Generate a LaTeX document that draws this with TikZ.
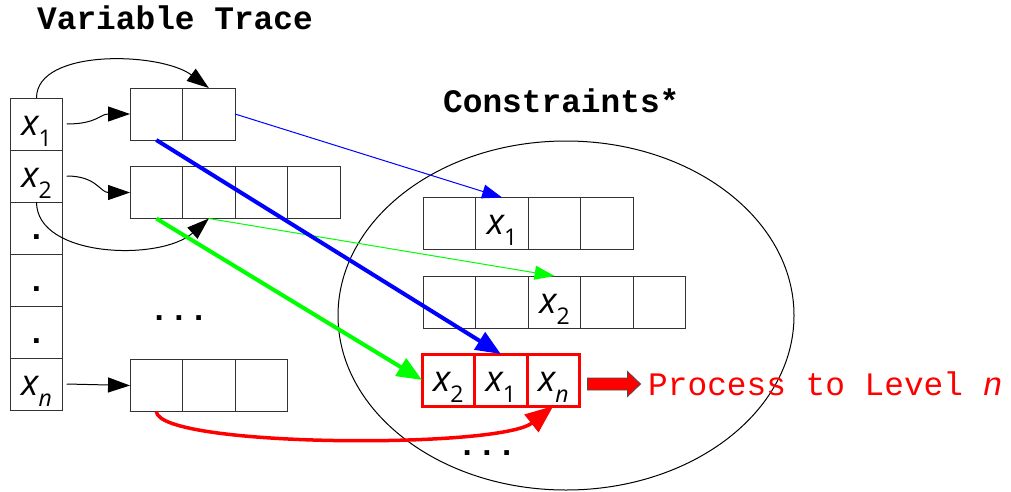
\documentclass[tikz,border=0pt]{standalone}
\usepackage{fontspec}
\usetikzlibrary{shapes.geometric, arrows.meta, positioning, calc}
\newfontfamily\monofont{Liberation Mono}
\newfontfamily\varfont{Open Sans}
\newcommand{\dotfont}{\monofont\bfseries\fontsize{32.8}{36}\selectfont}
\newcommand{\xvar}[1]{{\varfont\fontsize{36}{36}\selectfont\itshape x}\raisebox{-11pt}{\varfont\fontsize{23}{23}\selectfont #1}}
\tikzset{
    cell/.style={rectangle, draw=black!80, line width=1pt, minimum width=52.5pt, minimum height=52pt, inner sep=0pt, outer sep=0pt, text height=22pt, text depth=0pt},
    hotcell/.style={cell, draw=red, line width=3pt},
    title/.style={font=\dotfont, anchor=base west, inner sep=0pt},
    dots/.style={font=\dotfont, inner sep=0pt},
    link/.style={-{Triangle[length=22pt, width=15pt]}, line width=1pt},
    thinlink/.style={-{Triangle[length=20pt, width=14pt]}, line width=1pt},
    boldlink/.style={-{Triangle[length=25pt, width=20pt]}, line width=4pt}
}
\begin{document}
\begin{tikzpicture}[x=1pt, y=-1pt]
  \useasboundingbox (0,0) rectangle (1011,491);
  % constraint pool
  \node[ellipse, draw, line width=1pt, minimum width=456pt, minimum height=349pt, inner sep=0pt] (pool) at (566,315.5) {};
  \node[title] (trace) at (37,29) {Variable Trace};
  \node[title] (constr) at (443,112) {Constraints*};
  % variable column
  \node[cell] (x1) at (36.5,124) {\xvar{1}};
  \node[cell, below=0pt of x1] (x2) {\xvar{2}};
  \node[cell, below=0pt of x2, font=\dotfont] (d1) {.};
  \node[cell, below=0pt of d1, font=\dotfont] (d2) {.};
  \node[cell, below=0pt of d2, font=\dotfont] (d3) {.};
  \node[cell, below=0pt of d3] (xn) {\xvar{\itshape n}};
  % traces
  \node[cell] (r1a) at (156.3,114) {};
  \node[cell, right=0pt of r1a] (r1b) {};
  \node[cell] (r2a) at (156.3,192.5) {};
  \node[cell, right=0pt of r2a] (r2b) {};
  \node[cell, right=0pt of r2b] (r2c) {};
  \node[cell, right=0pt of r2c] (r2d) {};
  \node[dots] (gap) at (179,318) {...};
  \node[cell] (rna) at (156.3,385.5) {};
  \node[cell, right=0pt of rna] (rnb) {};
  \node[cell, right=0pt of rnb] (rnc) {};
  % constraints
  \node[cell] (c1a) at (449.6,223.5) {};
  \node[cell, right=0pt of c1a] (c1b) {\xvar{1}};
  \node[cell, right=0pt of c1b] (c1c) {};
  \node[cell, right=0pt of c1c] (c1d) {};
  \node[cell] (c2a) at (449.6,302) {};
  \node[cell, right=0pt of c2a] (c2b) {};
  \node[cell, right=0pt of c2b] (c2c) {\xvar{2}};
  \node[cell, right=0pt of c2c] (c2d) {};
  \node[cell, right=0pt of c2d] (c2e) {};
  \node[hotcell] (h2) at (448.3,380) {\xvar{2}};
  \node[hotcell, right=0pt of h2] (h1) {\xvar{1}};
  \node[hotcell, right=0pt of h1] (hn) {\xvar{\itshape n}};
  \node[dots] (more) at (487,452.7) {...};
  % go on
  \coordinate (go) at ($(hn.east)+(8,4)$);
  \draw[fill=red, draw=black!70, line width=0.8pt] (go) ++(0,-6) -- ++(40,0) -- ++(0,-6.5) -- ++(13,12.5) -- ++(-13,12.5) -- ++(0,-6.5) -- ++(-40,0) -- cycle;
  \node[font=\monofont\fontsize{32.8}{36}\selectfont, text=red, anchor=base west, inner sep=0pt] (level) at (648,395) {Process to Level \textit{n}};
  % connectors
  \draw[link] (x1.north) .. controls +(0,-50) and +(-48,-36) .. (r1b.north);
  \draw[link] ([xshift=4pt]x1.east) .. controls +(30,0) and +(-30,0) .. (r1a.west);
  \draw[link] ([xshift=4pt]x2.east) .. controls +(30,0) and +(-30,0) .. (r2a.west);
  \draw[link] (x2.south) .. controls +(0,56) and +(-48,43) .. (r2b.south);
  \draw[link] ([xshift=4pt]xn.east) -- (rna.west);
  \draw[thinlink, blue] (r1b.east) -- (c1b.north);
  \draw[thinlink, green] (r2b.south) -- (c2c.north);
  \draw[boldlink, blue] (r1a.south) -- (h1.north);
  \draw[boldlink, green] (r2a.south) -- (h2.west);
  \draw[-{Triangle[length=28pt, width=22pt]}, line width=3.5pt, red] (rna.south) .. controls +(3,36) and +(-54,43) .. (hn.south);
\end{tikzpicture}
\end{document}
